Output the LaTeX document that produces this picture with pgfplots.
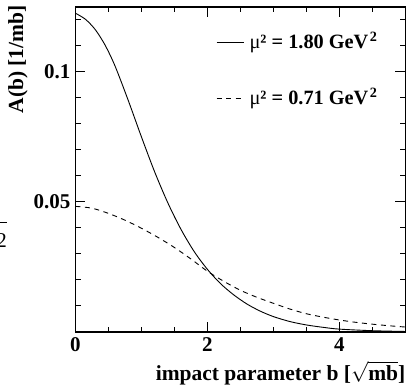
\documentclass[border=0pt]{standalone}
\usepackage{pgfplots}
\pgfplotsset{compat=1.18}
\usepackage{fontspec}
\setmainfont{Liberation Serif}

\pgfplotstableread{
b A
0.00 0.1223
0.15 0.1200
0.30 0.1160
0.45 0.1100
0.60 0.1020
0.80 0.0888
1.00 0.0748
1.20 0.0614
1.40 0.0495
1.60 0.0393
1.80 0.0308
2.00 0.0240
2.20 0.0185
2.40 0.0142
2.60 0.0107
2.80 0.0080
3.00 0.0059
3.25 0.0040
3.50 0.0027
3.75 0.0018
4.00 0.0011
4.50 0.0005
5.00 0.0002
}\solid

\pgfplotstableread{
b A
0.00 0.0482
0.25 0.0475
0.50 0.0455
0.75 0.0429
1.00 0.0398
1.25 0.0363
1.50 0.0324
1.75 0.0280
2.00 0.0233
2.25 0.0194
2.50 0.0160
2.75 0.0133
3.00 0.0110
3.25 0.0088
3.50 0.0070
3.75 0.0057
4.00 0.0046
4.25 0.0037
4.50 0.0030
4.75 0.0024
5.00 0.0019
}\dashed

\begin{document}
\fontsize{21bp}{25bp}\selectfont
\begin{tikzpicture}
\path[use as bounding box] (-75.5bp,-56bp) rectangle (331.5bp,332bp);
\begin{axis}[
  width=330bp, height=325bp, scale only axis,
  xmin=0, xmax=5, ymin=0, ymax=0.1247,
  axis line style={line width=1.8bp},
  tick align=inside,
  major tick length=10bp, minor tick length=5.5bp,
  every tick/.style={black, line width=1.1bp},
  xtick={0,2,4}, xticklabels={0,2,4},
  minor xtick={0.5,1,1.5,2.5,3,3.5,4.5},
  ytick={0.05,0.1}, yticklabels={0.05,0.1},
  minor ytick={0.01,0.02,0.03,0.04,0.06,0.07,0.08,0.09,0.11,0.12},
  tick label style={font=\fontsize{21bp}{25bp}\selectfont\bfseries},
  xticklabel style={yshift=2bp},
  yticklabel style={xshift=2bp},
  xlabel={impact parameter b [$\sqrt{\mbox{\bfseries mb}}$]},
  xlabel style={at={(axis description cs:1,0)}, anchor=north east, inner sep=0pt, yshift=-29bp, font=\fontsize{21.5bp}{26bp}\selectfont\bfseries},
  ylabel={A(b) [1/mb]},
  ylabel style={at={(axis description cs:-0.144,1.006)}, anchor=south east, inner sep=0pt, font=\fontsize{21.5bp}{26bp}\selectfont\bfseries},
  legend style={at={(axis description cs:0.4167,0.93)}, anchor=north west, draw=none, fill=none,
    font=\fontsize{20.3bp}{24bp}\selectfont\bfseries, row sep=36bp, column sep=3bp,
    nodes={inner xsep=2.5bp, inner ysep=0bp}},
  legend cell align=left,
  legend image code/.code={\draw[#1] (0bp,0bp) -- (27bp,0bp);},
]
\addplot[black, line width=0.9bp, smooth, tension=0.5] table[x=b, y=A] {\solid};
\addlegendentry{{\mdseries μ}² = 1.80 GeV\kern1.5bp\textsuperscript{2}}
\addplot[black, line width=0.9bp, dash pattern=on 5bp off 4.5bp, smooth, tension=0.5] table[x=b, y=A] {\dashed};
\addlegendentry{{\mdseries μ}² = 0.71 GeV\kern1.5bp\textsuperscript{2}}
\end{axis}
\node[inner sep=0pt, anchor=base] at (-73.75bp,84bp) {2};
\node[inner sep=0pt, anchor=south east] at (-68bp,108.8bp) {\rule{20bp}{1bp}};
\end{tikzpicture}
\end{document}
